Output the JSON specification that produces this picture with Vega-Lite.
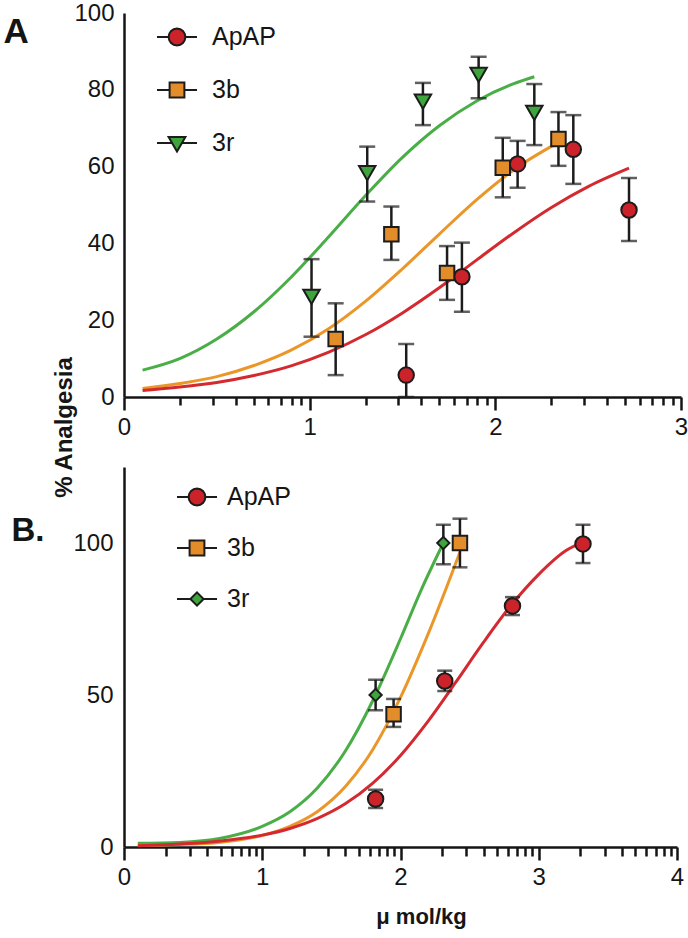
{
  "$schema": "https://vega.github.io/schema/vega-lite/v6.json",
  "background": "white",
  "padding": {"left": 3, "top": 1, "right": 4, "bottom": 4},
  "spacing": 70,
  "bounds": "flush",
  "config": {
    "view": {"stroke": null},
    "font": "Liberation Sans",
    "axis": {
      "grid": false,
      "domainColor": "#151515",
      "domainWidth": 2.5,
      "tickColor": "#151515",
      "tickWidth": 2.5,
      "labelColor": "#151515",
      "labelFont": "Liberation Sans",
      "labelFontSize": 24,
      "labelFlush": false,
      "labelOverlap": false,
      "titleColor": "#151515",
      "titleFont": "Liberation Sans"
    }
  },
  "datasets": {
    "ptsA": [
      {"cmpd": "ApAP", "dose": 1.52, "v": 5.7, "lo": 0, "hi": 13.8},
      {"cmpd": "ApAP", "dose": 1.82, "v": 31.3, "lo": 22.2, "hi": 40.2},
      {"cmpd": "ApAP", "dose": 2.12, "v": 60.7, "lo": 54.5, "hi": 66.7},
      {"cmpd": "ApAP", "dose": 2.42, "v": 64.5, "lo": 55.5, "hi": 73.4},
      {"cmpd": "ApAP", "dose": 2.72, "v": 48.7, "lo": 40.6, "hi": 57.0},
      {"cmpd": "3b", "dose": 1.14, "v": 15.1, "lo": 5.7, "hi": 24.4},
      {"cmpd": "3b", "dose": 1.44, "v": 42.4, "lo": 35.7, "hi": 49.6},
      {"cmpd": "3b", "dose": 1.74, "v": 32.3, "lo": 25.3, "hi": 39.3},
      {"cmpd": "3b", "dose": 2.04, "v": 59.7, "lo": 52.0, "hi": 67.5},
      {"cmpd": "3b", "dose": 2.34, "v": 67.2, "lo": 60.2, "hi": 74.2},
      {"cmpd": "3r", "dose": 1.01, "v": 26.1, "lo": 15.7, "hi": 35.9},
      {"cmpd": "3r", "dose": 1.31, "v": 58.3, "lo": 50.9, "hi": 65.2},
      {"cmpd": "3r", "dose": 1.61, "v": 76.9, "lo": 70.8, "hi": 81.8},
      {"cmpd": "3r", "dose": 1.91, "v": 83.9, "lo": 77.8, "hi": 88.6},
      {"cmpd": "3r", "dose": 2.21, "v": 74.0, "lo": 65.6, "hi": 81.5}
    ],
    "curveA": [
      {"cmpd": "3r", "dose": 0.1, "v": 7.0}, {"cmpd": "3r", "dose": 0.3, "v": 10.0}, {"cmpd": "3r", "dose": 0.5, "v": 15.1},
      {"cmpd": "3r", "dose": 0.7, "v": 22.2}, {"cmpd": "3r", "dose": 0.9, "v": 31.2}, {"cmpd": "3r", "dose": 1.1, "v": 41.6},
      {"cmpd": "3r", "dose": 1.3, "v": 52.4}, {"cmpd": "3r", "dose": 1.5, "v": 62.4}, {"cmpd": "3r", "dose": 1.7, "v": 70.7},
      {"cmpd": "3r", "dose": 1.9, "v": 77.1}, {"cmpd": "3r", "dose": 2.1, "v": 81.6}, {"cmpd": "3r", "dose": 2.21, "v": 83.4},
      {"cmpd": "3b", "dose": 0.1, "v": 2.2}, {"cmpd": "3b", "dose": 0.3, "v": 3.5}, {"cmpd": "3b", "dose": 0.5, "v": 5.3},
      {"cmpd": "3b", "dose": 0.7, "v": 8.2}, {"cmpd": "3b", "dose": 0.9, "v": 12.2}, {"cmpd": "3b", "dose": 1.1, "v": 17.7},
      {"cmpd": "3b", "dose": 1.3, "v": 24.9}, {"cmpd": "3b", "dose": 1.5, "v": 33.4}, {"cmpd": "3b", "dose": 1.7, "v": 42.5},
      {"cmpd": "3b", "dose": 1.9, "v": 51.4}, {"cmpd": "3b", "dose": 2.1, "v": 59.2}, {"cmpd": "3b", "dose": 2.34, "v": 66.3},
      {"cmpd": "ApAP", "dose": 0.1, "v": 1.7}, {"cmpd": "ApAP", "dose": 0.3, "v": 2.6}, {"cmpd": "ApAP", "dose": 0.5, "v": 3.8},
      {"cmpd": "ApAP", "dose": 0.7, "v": 5.6}, {"cmpd": "ApAP", "dose": 0.9, "v": 8.1}, {"cmpd": "ApAP", "dose": 1.1, "v": 11.6},
      {"cmpd": "ApAP", "dose": 1.3, "v": 16.2}, {"cmpd": "ApAP", "dose": 1.5, "v": 21.9}, {"cmpd": "ApAP", "dose": 1.7, "v": 28.5},
      {"cmpd": "ApAP", "dose": 1.9, "v": 35.7}, {"cmpd": "ApAP", "dose": 2.1, "v": 42.8}, {"cmpd": "ApAP", "dose": 2.3, "v": 49.3},
      {"cmpd": "ApAP", "dose": 2.5, "v": 54.8}, {"cmpd": "ApAP", "dose": 2.72, "v": 59.6}
    ],
    "ptsB": [
      {"cmpd": "ApAP", "dose": 1.82, "v": 15.8, "lo": 12.8, "hi": 18.8},
      {"cmpd": "ApAP", "dose": 2.32, "v": 54.6, "lo": 51.3, "hi": 58.0},
      {"cmpd": "ApAP", "dose": 2.81, "v": 79.3, "lo": 76.3, "hi": 82.2},
      {"cmpd": "ApAP", "dose": 3.32, "v": 99.7, "lo": 93.4, "hi": 106.0},
      {"cmpd": "3b", "dose": 1.95, "v": 43.7, "lo": 39.5, "hi": 48.7},
      {"cmpd": "3b", "dose": 2.43, "v": 100, "lo": 92, "hi": 108},
      {"cmpd": "3r", "dose": 1.82, "v": 50, "lo": 45, "hi": 55},
      {"cmpd": "3r", "dose": 2.31, "v": 100, "lo": 93, "hi": 106}
    ],
    "curveB": [
      {"cmpd": "3r", "dose": 0.1, "v": 1.2}, {"cmpd": "3r", "dose": 0.4, "v": 1.5}, {"cmpd": "3r", "dose": 0.7, "v": 2.9},
      {"cmpd": "3r", "dose": 1.0, "v": 6.8}, {"cmpd": "3r", "dose": 1.2, "v": 11.6}, {"cmpd": "3r", "dose": 1.4, "v": 19.5},
      {"cmpd": "3r", "dose": 1.6, "v": 31.5}, {"cmpd": "3r", "dose": 1.8, "v": 48.2}, {"cmpd": "3r", "dose": 2.0, "v": 68.5},
      {"cmpd": "3r", "dose": 2.15, "v": 84.6}, {"cmpd": "3r", "dose": 2.31, "v": 100},
      {"cmpd": "3b", "dose": 0.1, "v": 0.5}, {"cmpd": "3b", "dose": 0.4, "v": 0.8}, {"cmpd": "3b", "dose": 0.7, "v": 1.6},
      {"cmpd": "3b", "dose": 1.0, "v": 3.8}, {"cmpd": "3b", "dose": 1.2, "v": 6.8}, {"cmpd": "3b", "dose": 1.4, "v": 11.7},
      {"cmpd": "3b", "dose": 1.6, "v": 19.8}, {"cmpd": "3b", "dose": 1.8, "v": 32.1}, {"cmpd": "3b", "dose": 2.0, "v": 49.2},
      {"cmpd": "3b", "dose": 2.2, "v": 70.1}, {"cmpd": "3b", "dose": 2.43, "v": 97},
      {"cmpd": "ApAP", "dose": 0.1, "v": 0.4}, {"cmpd": "ApAP", "dose": 0.4, "v": 1.0}, {"cmpd": "ApAP", "dose": 0.7, "v": 2.0},
      {"cmpd": "ApAP", "dose": 1.0, "v": 3.9}, {"cmpd": "ApAP", "dose": 1.2, "v": 6.1}, {"cmpd": "ApAP", "dose": 1.4, "v": 9.4},
      {"cmpd": "ApAP", "dose": 1.6, "v": 14.2}, {"cmpd": "ApAP", "dose": 1.8, "v": 21.0}, {"cmpd": "ApAP", "dose": 2.0, "v": 30.1},
      {"cmpd": "ApAP", "dose": 2.2, "v": 41.4}, {"cmpd": "ApAP", "dose": 2.4, "v": 54.2}, {"cmpd": "ApAP", "dose": 2.6, "v": 67.3},
      {"cmpd": "ApAP", "dose": 2.8, "v": 79.5}, {"cmpd": "ApAP", "dose": 3.0, "v": 89.7}, {"cmpd": "ApAP", "dose": 3.2, "v": 97.6},
      {"cmpd": "ApAP", "dose": 3.32, "v": 100.3}
    ]
  },
  "vconcat": [
    {
      "width": 557,
      "height": 384,
      "encoding": {
        "x": {"field": "dose", "type": "quantitative", "scale": {"domain": [0, 3], "nice": false, "zero": false},
          "axis": {"title": "A", "titleFontSize": 35, "titleFontWeight": "bold", "titleAngle": 0, "titleAlign": "left", "titleBaseline": "alphabetic", "titleX": -121, "titleY": -355,
            "values": [0, 0.30103, 0.47712, 0.60206, 0.69897, 0.77815, 0.8451, 0.90309, 0.95424, 1, 1.30103, 1.47712, 1.60206, 1.69897, 1.77815, 1.8451, 1.90309, 1.95424, 2, 2.30103, 2.47712, 2.60206, 2.69897, 2.77815, 2.8451, 2.90309, 2.95424, 3],
            "labelExpr": "datum.value % 1 === 0 ? '' + datum.value : ''",
            "tickSize": {"condition": {"test": "datum.value % 1 === 0", "value": 13}, "value": 8},
            "labelPadding": 5}}
      },
      "layer": [
        {
          "data": {"name": "curveA"},
          "mark": {"type": "line", "strokeWidth": 3, "interpolate": "monotone"},
          "encoding": {
            "y": {"field": "v", "type": "quantitative", "scale": {"domain": [0, 100], "nice": false},
              "axis": {"values": [0, 20, 40, 60, 80, 100], "tickSize": 0, "labelPadding": 10,
                "encode": {"ticks": {"update": {"x2": {"value": 13}}}},
                "title": "% Analgesia", "titleFontSize": 24, "titleFontWeight": "bold", "titleAngle": 270, "titleBaseline": "alphabetic", "titleAlign": "center", "titleX": -53, "titleY": 414}},
            "detail": {"field": "cmpd", "type": "nominal"},
            "stroke": {"condition": [{"test": "datum.cmpd === 'ApAP'", "value": "#d42a2f"}, {"test": "datum.cmpd === '3b'", "value": "#eb9629"}], "value": "#4aae47"}
          }
        },
        {
          "data": {"name": "ptsA"},
          "mark": {"type": "rule", "strokeWidth": 2.5, "color": "#1c1c1c"},
          "encoding": {
            "y": {"field": "lo", "type": "quantitative", "scale": {"domain": [0, 100], "nice": false}},
            "y2": {"field": "hi"}
          }
        },
        {
          "data": {"name": "ptsA"},
          "mark": {"type": "tick", "orient": "horizontal", "size": 16, "thickness": 2.5, "color": "#1c1c1c"},
          "encoding": {"y": {"field": "hi", "type": "quantitative", "scale": {"domain": [0, 100], "nice": false}}}
        },
        {
          "data": {"name": "ptsA"},
          "mark": {"type": "tick", "orient": "horizontal", "size": 16, "thickness": 2.5, "color": "#1c1c1c"},
          "encoding": {"y": {"field": "lo", "type": "quantitative", "scale": {"domain": [0, 100], "nice": false}}}
        },
        {
          "data": {"name": "ptsA"},
          "mark": {"type": "point", "filled": true, "stroke": "#1c1c1c", "strokeWidth": 2, "opacity": 1, "fillOpacity": 1},
          "encoding": {
            "y": {"field": "v", "type": "quantitative", "scale": {"domain": [0, 100], "nice": false}},
            "fill": {"field": "cmpd", "type": "nominal", "scale": {"domain": ["ApAP", "3b", "3r"], "range": ["#cc2229", "#e38d2a", "#3da53c"]}},
            "shape": {"condition": [{"test": "datum.cmpd === '3b'", "value": "square"}, {"test": "datum.cmpd === '3r'", "value": "triangle-down"}], "value": "circle"},
            "size": {"condition": [{"test": "datum.cmpd === '3b'", "value": 210}, {"test": "datum.cmpd === '3r'", "value": 270}], "value": 240}
          }
        },
        {
          "data": {"name": "ptsA"},
          "transform": [{"filter": "datum.v < -1000"}],
          "mark": {"type": "point", "filled": true, "stroke": "#1c1c1c", "strokeWidth": 2, "opacity": 1, "fillOpacity": 1},
          "encoding": {
            "y": {"field": "v", "type": "quantitative", "scale": {"domain": [0, 100], "nice": false}},
            "fill": {"field": "cmpd", "type": "nominal", "scale": {"domain": ["ApAP", "3b", "3r"], "range": ["#cc2229", "#e38d2a", "#3da53c"]},
              "legend": {"orient": "none", "legendX": 32, "legendY": 3, "title": null, "symbolSize": 1600, "symbolStrokeWidth": 2, "symbolStrokeColor": "#1c1c1c", "symbolOpacity": 1, "labelOffset": 14, "rowPadding": 19, "labelFontSize": 25, "labelFont": "Liberation Sans", "labelColor": "#151515", "padding": 0,
                "encode": {"symbols": {"update": {"stroke": {"value": "#1c1c1c"}, "strokeWidth": {"value": 2}}}}}},
            "shape": {"field": "cmpd", "type": "nominal", "scale": {"domain": ["ApAP", "3b", "3r"], "range": ["M-1,0H-0.42M0.42,0H1M0.42,0L0.388,0.161L0.297,0.297L0.161,0.388L0,0.42L-0.161,0.388L-0.297,0.297L-0.388,0.161L-0.42,0L-0.388,-0.161L-0.297,-0.297L-0.161,-0.388L0,-0.42L0.161,-0.388L0.297,-0.297L0.388,-0.161Z", "M-1,0H-0.37M0.37,0H1M-0.37,-0.37H0.37V0.37H-0.37Z", "M-1,0H-0.25M0.25,0H1M-0.42,-0.3H0.42L0,0.42Z"]},
              "legend": {"orient": "none", "legendX": 32, "legendY": 3, "title": null, "symbolSize": 1600, "symbolStrokeWidth": 2, "symbolStrokeColor": "#1c1c1c", "symbolOpacity": 1, "labelOffset": 14, "rowPadding": 19, "labelFontSize": 25, "labelFont": "Liberation Sans", "labelColor": "#151515", "padding": 0,
                "encode": {"symbols": {"update": {"stroke": {"value": "#1c1c1c"}, "strokeWidth": {"value": 2}}}}}}
          }
        }
      ]
    },
    {
      "width": 553,
      "height": 380,
      "encoding": {
        "x": {"field": "dose", "type": "quantitative", "scale": {"domain": [0, 4], "nice": false, "zero": false},
          "axis": {"title": "μ mol/kg", "titleFontSize": 22, "titleFontWeight": "bold", "titleX": 297, "titleY": 76, "titleBaseline": "alphabetic", "titleAlign": "center",
            "values": [0, 0.30103, 0.47712, 0.60206, 0.69897, 0.77815, 0.8451, 0.90309, 0.95424, 1, 1.30103, 1.47712, 1.60206, 1.69897, 1.77815, 1.8451, 1.90309, 1.95424, 2, 2.30103, 2.47712, 2.60206, 2.69897, 2.77815, 2.8451, 2.90309, 2.95424, 3, 3.30103, 3.47712, 3.60206, 3.69897, 3.77815, 3.8451, 3.90309, 3.95424, 4],
            "labelExpr": "datum.value % 1 === 0 ? '' + datum.value : ''",
            "tickSize": {"condition": {"test": "datum.value % 1 === 0", "value": 13}, "value": 9},
            "labelPadding": 5}}
      },
      "layer": [
        {
          "data": {"name": "curveB"},
          "mark": {"type": "line", "strokeWidth": 3, "interpolate": "monotone"},
          "encoding": {
            "y": {"field": "v", "type": "quantitative", "scale": {"domain": [0, 125], "nice": false},
              "axis": {"values": [0, 50, 100], "tickSize": 0, "labelPadding": 11,
                "encode": {"ticks": {"update": {"x2": {"value": 18}}}},
                "title": "B.", "titleFontSize": 33, "titleFontWeight": "bold", "titleAngle": 0, "titleAlign": "left", "titleBaseline": "alphabetic", "titleX": -113, "titleY": 73}},
            "detail": {"field": "cmpd", "type": "nominal"},
            "stroke": {"condition": [{"test": "datum.cmpd === 'ApAP'", "value": "#d42a2f"}, {"test": "datum.cmpd === '3b'", "value": "#eb9629"}], "value": "#4aae47"}
          }
        },
        {
          "data": {"name": "ptsB"},
          "mark": {"type": "rule", "strokeWidth": 2.5, "color": "#1c1c1c"},
          "encoding": {
            "y": {"field": "lo", "type": "quantitative", "scale": {"domain": [0, 125], "nice": false}},
            "y2": {"field": "hi"}
          }
        },
        {
          "data": {"name": "ptsB"},
          "mark": {"type": "tick", "orient": "horizontal", "size": 15, "thickness": 2.5, "color": "#1c1c1c"},
          "encoding": {"y": {"field": "hi", "type": "quantitative", "scale": {"domain": [0, 125], "nice": false}}}
        },
        {
          "data": {"name": "ptsB"},
          "mark": {"type": "tick", "orient": "horizontal", "size": 15, "thickness": 2.5, "color": "#1c1c1c"},
          "encoding": {"y": {"field": "lo", "type": "quantitative", "scale": {"domain": [0, 125], "nice": false}}}
        },
        {
          "data": {"name": "ptsB"},
          "mark": {"type": "point", "filled": true, "stroke": "#1c1c1c", "strokeWidth": 2, "opacity": 1, "fillOpacity": 1},
          "encoding": {
            "y": {"field": "v", "type": "quantitative", "scale": {"domain": [0, 125], "nice": false}},
            "fill": {"field": "cmpd", "type": "nominal", "scale": {"domain": ["ApAP", "3b", "3r"], "range": ["#cc2229", "#e38d2a", "#3da53c"]}},
            "shape": {"condition": [{"test": "datum.cmpd === '3b'", "value": "square"}, {"test": "datum.cmpd === '3r'", "value": "diamond"}], "value": "circle"},
            "size": {"condition": [{"test": "datum.cmpd === '3b'", "value": 210}, {"test": "datum.cmpd === '3r'", "value": 150}], "value": 240}
          }
        },
        {
          "data": {"name": "ptsB"},
          "transform": [{"filter": "datum.v < -1000"}],
          "mark": {"type": "point", "filled": true, "stroke": "#1c1c1c", "strokeWidth": 2, "opacity": 1, "fillOpacity": 1},
          "encoding": {
            "y": {"field": "v", "type": "quantitative", "scale": {"domain": [0, 125], "nice": false}},
            "fill": {"field": "cmpd", "type": "nominal", "scale": {"domain": ["ApAP", "3b", "3r"], "range": ["#cc2229", "#e38d2a", "#3da53c"]},
              "legend": {"orient": "none", "legendX": 52, "legendY": 9, "title": null, "symbolSize": 1600, "symbolStrokeWidth": 2, "symbolStrokeColor": "#1c1c1c", "symbolOpacity": 1, "labelOffset": 9, "rowPadding": 17, "labelFontSize": 25, "labelFont": "Liberation Sans", "labelColor": "#151515", "padding": 0,
                "encode": {"symbols": {"update": {"stroke": {"value": "#1c1c1c"}, "strokeWidth": {"value": 2}}}}}},
            "shape": {"field": "cmpd", "type": "nominal", "scale": {"domain": ["ApAP", "3b", "3r"], "range": ["M-1,0H-0.42M0.42,0H1M0.42,0L0.388,0.161L0.297,0.297L0.161,0.388L0,0.42L-0.161,0.388L-0.297,0.297L-0.388,0.161L-0.42,0L-0.388,-0.161L-0.297,-0.297L-0.161,-0.388L0,-0.42L0.161,-0.388L0.297,-0.297L0.388,-0.161Z", "M-1,0H-0.37M0.37,0H1M-0.37,-0.37H0.37V0.37H-0.37Z", "M-1,0H-0.33M0.33,0H1M0,-0.33L0.33,0L0,0.33L-0.33,0Z"]},
              "legend": {"orient": "none", "legendX": 52, "legendY": 9, "title": null, "symbolSize": 1600, "symbolStrokeWidth": 2, "symbolStrokeColor": "#1c1c1c", "symbolOpacity": 1, "labelOffset": 9, "rowPadding": 17, "labelFontSize": 25, "labelFont": "Liberation Sans", "labelColor": "#151515", "padding": 0,
                "encode": {"symbols": {"update": {"stroke": {"value": "#1c1c1c"}, "strokeWidth": {"value": 2}}}}}}
          }
        }
      ]
    }
  ],
  "resolve": {"scale": {"x": "independent", "y": "independent", "fill": "independent", "shape": "independent"}}
}
